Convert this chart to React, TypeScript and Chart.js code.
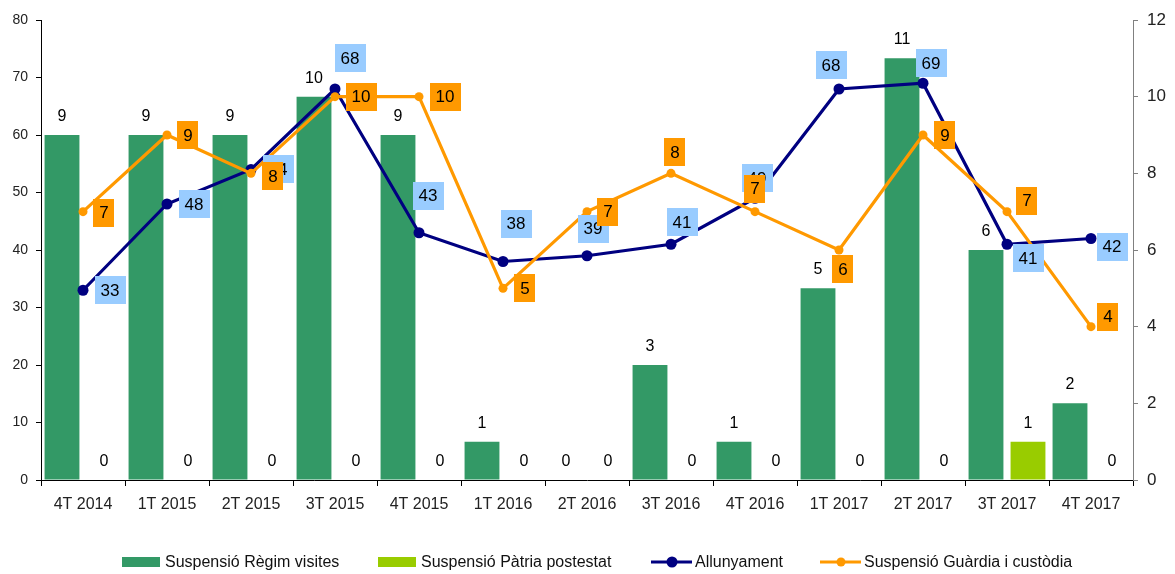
import React, { useEffect, useRef } from 'react';
import { Chart, registerables } from 'chart.js';

Chart.register(...registerables);

const FONT = '"Liberation Sans", Arial, Helvetica, sans-serif';

const categories = ['4T 2014', '1T 2015', '2T 2015', '3T 2015', '4T 2015', '1T 2016', '2T 2016', '3T 2016', '4T 2016', '1T 2017', '2T 2017', '3T 2017', '4T 2017'];
const regimVisites = [9, 9, 9, 10, 9, 1, 0, 3, 1, 5, 11, 6, 2];
const patriaPotestat = [0, 0, 0, 0, 0, 0, 0, 0, 0, 0, 0, 1, 0];
const allunyament = [33, 48, 54, 68, 43, 38, 39, 41, 49, 68, 69, 41, 42];
const guardiaCustodia = [7, 9, 8, 10, 10, 5, 7, 8, 7, 6, 9, 7, 4];

const leftAxis = { min: 0, max: 80, step: 10 };
const rightAxis = { min: 0, max: 12, step: 2 };

const seriesNames = ['Suspensió Règim visites', 'Suspensió Pàtria postestat', 'Allunyament', 'Suspensió Guàrdia i custòdia'];

// label placement (offset of the label box centre from its point)
const allunyamentLabelOffsets = [[27, 0], [27, 0], [27, 0], [15, -31], [9, -37], [13, -38], [6, -27], [11, -22], [2, -20], [-8, -24], [8, -20], [21, 14], [21, 8]];
const guardiaLabelOffsets = [[21, 1], [21, 0], [22, 3], [26, 0], [26, 0], [22, 0], [21, 0], [4, -21], [0, -23], [4, 19], [22, 0], [20, -11], [17, -10]];

const COLORS = {
  regim: '#339966',
  patria: '#99CC00',
  allunyament: '#000080',
  guardia: '#FF9900',
  blueBox: '#99CCFF',
};

const legendStarts = [122, 378, 651, 820];

const labelPlugin = {
  id: 'valueLabels',
  afterDatasetsDraw(chart: any) {
    const ctx = chart.ctx;
    ctx.save();
    ctx.font = `16px ${FONT}`;
    ctx.fillStyle = '#000';
    ctx.textAlign = 'center';
    ctx.textBaseline = 'alphabetic';
    [0, 1].forEach((di) => {
      const meta = chart.getDatasetMeta(di);
      meta.data.forEach((el: any, i: number) => {
        const v = chart.data.datasets[di].data[i];
        ctx.fillText(String(v), el.x, el.y - 14);
      });
    });
    const drawBoxes = (di: number, offsets: number[][], bg: string) => {
      const meta = chart.getDatasetMeta(di);
      ctx.font = `17px ${FONT}`;
      meta.data.forEach((el: any, i: number) => {
        const v = String(chart.data.datasets[di].data[i]);
        const w = ctx.measureText(v).width + 12;
        const h = 28;
        const cx = el.x + offsets[i][0];
        const cy = el.y + offsets[i][1];
        ctx.fillStyle = bg;
        ctx.fillRect(Math.round(cx - w / 2), Math.round(cy - h / 2), Math.round(w), h);
        ctx.fillStyle = '#000';
        ctx.textAlign = 'center';
        ctx.textBaseline = 'middle';
        ctx.fillText(v, cx, cy + 1);
      });
    };
    drawBoxes(2, allunyamentLabelOffsets, COLORS.blueBox);
    drawBoxes(3, guardiaLabelOffsets, COLORS.guardia);
    ctx.restore();
  },
};

const legendPlugin = {
  id: 'customLegend',
  afterDraw(chart: any) {
    const ctx = chart.ctx;
    ctx.save();
    const cy = 562;
    ctx.font = `16px ${FONT}`;
    ctx.textBaseline = 'middle';
    ctx.textAlign = 'left';
    const cols = [COLORS.regim, COLORS.patria, COLORS.allunyament, COLORS.guardia];
    seriesNames.forEach((name, i) => {
      const x = legendStarts[i];
      if (i < 2) {
        ctx.fillStyle = cols[i];
        ctx.fillRect(x, cy - 5, 38, 10);
        ctx.fillStyle = '#111';
        ctx.fillText(name, x + 43, cy + 1);
      } else {
        ctx.strokeStyle = cols[i];
        ctx.lineWidth = 3;
        ctx.beginPath();
        ctx.moveTo(x, cy);
        ctx.lineTo(x + 41, cy);
        ctx.stroke();
        ctx.fillStyle = cols[i];
        ctx.beginPath();
        ctx.arc(x + 21, cy, i === 2 ? 5.5 : 4.5, 0, Math.PI * 2);
        ctx.fill();
        ctx.fillStyle = '#111';
        ctx.fillText(name, x + 44, cy + 1);
      }
    });
    ctx.restore();
  },
};

export default function App() {
  const canvasRef = useRef<HTMLCanvasElement | null>(null);

  useEffect(() => {
    document.body.style.margin = '0';
    const canvas = canvasRef.current;
    if (!canvas) return;
    const chart = new Chart(canvas, {
      type: 'bar',
      data: {
        labels: categories,
        datasets: [
          {
            type: 'bar',
            label: seriesNames[0],
            data: regimVisites,
            backgroundColor: COLORS.regim,
            yAxisID: 'y1',
            categoryPercentage: 1.0,
            barPercentage: 0.83,
            order: 2,
          },
          {
            type: 'bar',
            label: seriesNames[1],
            data: patriaPotestat,
            backgroundColor: COLORS.patria,
            yAxisID: 'y1',
            categoryPercentage: 1.0,
            barPercentage: 0.83,
            order: 3,
          },
          {
            type: 'line',
            label: seriesNames[2],
            data: allunyament,
            borderColor: COLORS.allunyament,
            backgroundColor: COLORS.allunyament,
            borderWidth: 3.2,
            pointRadius: 5.5,
            pointBorderWidth: 0,
            pointBackgroundColor: COLORS.allunyament,
            tension: 0,
            yAxisID: 'y',
            order: 1,
          },
          {
            type: 'line',
            label: seriesNames[3],
            data: guardiaCustodia,
            borderColor: COLORS.guardia,
            backgroundColor: COLORS.guardia,
            borderWidth: 3.2,
            pointRadius: 4.5,
            pointBorderWidth: 0,
            pointBackgroundColor: COLORS.guardia,
            tension: 0,
            yAxisID: 'y1',
            order: 0,
          },
        ] as any,
      },
      options: {
        animation: false,
        responsive: true,
        maintainAspectRatio: false,
        layout: { padding: { top: 20, left: 0, right: 0, bottom: 0 } },
        plugins: {
          legend: { display: false },
          tooltip: { enabled: false },
        },
        scales: {
          x: {
            offset: true,
            grid: {
              offset: true,
              drawOnChartArea: false,
              drawTicks: true,
              tickLength: 6,
              color: '#000',
              tickColor: '#000',
            },
            border: { display: true, color: '#000', width: 1 },
            ticks: {
              font: { size: 16, family: FONT },
              color: '#222',
              padding: 9,
              maxRotation: 0,
              autoSkip: false,
            },
            afterFit(scale: any) {
              scale.height = 94;
            },
          },
          y: {
            position: 'left',
            min: leftAxis.min,
            max: leftAxis.max,
            ticks: {
              stepSize: leftAxis.step,
              font: { size: 14, family: FONT },
              color: '#222',
              padding: 8,
            },
            grid: { drawOnChartArea: false, tickLength: 5, tickColor: '#000', color: '#000' },
            border: { display: true, color: '#000', width: 1 },
            afterFit(scale: any) {
              scale.width = 41;
            },
          },
          y1: {
            position: 'right',
            min: rightAxis.min,
            max: rightAxis.max,
            ticks: {
              stepSize: rightAxis.step,
              font: { size: 17, family: FONT },
              color: '#222',
              padding: 9,
            },
            grid: { drawOnChartArea: false, tickLength: 5, tickColor: '#808080', color: '#808080' },
            border: { display: true, color: '#808080', width: 1 },
            afterFit(scale: any) {
              scale.width = 42;
            },
          },
        },
      } as any,
      plugins: [labelPlugin, legendPlugin],
    });
    return () => chart.destroy();
  }, []);

  return (
    <div style={{ width: '1175px', height: '574px', position: 'relative' }}>
      <canvas ref={canvasRef} />
    </div>
  );
}
